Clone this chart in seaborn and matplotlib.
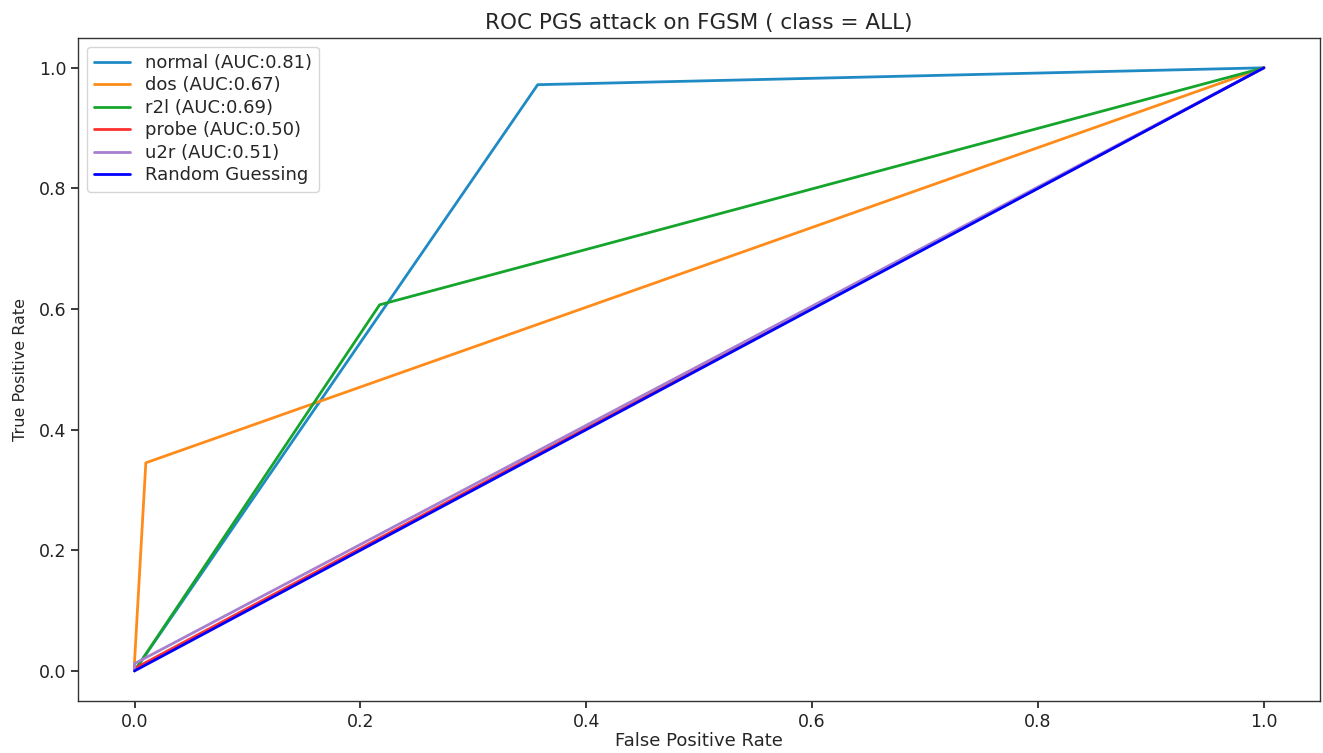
import numpy as np
import pandas as pd
import matplotlib
matplotlib.use("Agg")
import matplotlib.pyplot as plt
import seaborn as sns

# ROC curve points
labels = ["normal (AUC:0.81)", "dos (AUC:0.67)", "r2l (AUC:0.69)",
          "probe (AUC:0.50)", "u2r (AUC:0.51)", "Random Guessing"]
normal_fpr = [0.0, 0.357, 1.0]
normal_tpr = [0.0, 0.972, 1.0]
dos_fpr = [0.0, 0.0, 0.010, 1.0]
dos_tpr = [0.0, 0.015, 0.345, 1.0]
r2l_fpr = [0.0, 0.217, 1.0]
r2l_tpr = [0.0, 0.607, 1.0]
probe_fpr = [0.0, 0.0, 1.0]
probe_tpr = [0.0, 0.004, 1.0]
u2r_fpr = [0.0, 0.0, 1.0]
u2r_tpr = [0.0, 0.012, 1.0]
rand_fpr = [0.0, 1.0]
rand_tpr = [0.0, 1.0]

colors = ["#1f8ac4", "#ff8c1a", "#16a52c", "#ff3030", "#a77fcf", "#0000ff"]

series = [(normal_fpr, normal_tpr), (dos_fpr, dos_tpr), (r2l_fpr, r2l_tpr),
          (probe_fpr, probe_tpr), (u2r_fpr, u2r_tpr), (rand_fpr, rand_tpr)]

rows = []
for lab, (fx, ty) in zip(labels, series):
    for i, (a, b) in enumerate(zip(fx, ty)):
        rows.append({"curve": lab, "fpr": a, "tpr": b, "order": i})
df = pd.DataFrame(rows)

sns.set_theme(style="ticks")
plt.rcParams["font.family"] = ["DejaVu Sans"]

fig = plt.figure(figsize=(13.23, 7.53), dpi=100)
ax = fig.add_axes([0.059, 0.069, 0.939, 0.881])

for lab, col in zip(labels, colors):
    sub = df[df["curve"] == lab]
    sns.lineplot(data=sub, x="fpr", y="tpr", sort=False, ax=ax, color=col,
                 label=lab, linewidth=2.0, estimator=None)

ax.set_xlim(-0.05, 1.05)
ax.set_ylim(-0.05, 1.05)
ax.set_xticks([0.0, 0.2, 0.4, 0.6, 0.8, 1.0])
ax.set_yticks([0.0, 0.2, 0.4, 0.6, 0.8, 1.0])
ax.tick_params(labelsize=12.5, length=5, colors="#222222")
for s in ax.spines.values():
    s.set_visible(True)
    s.set_color("#333333")
    s.set_linewidth(1.0)
ax.set_xlabel("False Positive Rate", fontsize=13, labelpad=1)
ax.set_ylabel("True Positive Rate", fontsize=11.5, labelpad=8)
ax.set_title("ROC PGS attack on FGSM ( class = ALL)", fontsize=15.5, pad=6)
ax.legend(loc="upper left", fontsize=13, frameon=True, handlelength=2.0,
          borderaxespad=0.5, labelspacing=0.25)

fig.savefig("out.png", dpi=100)
